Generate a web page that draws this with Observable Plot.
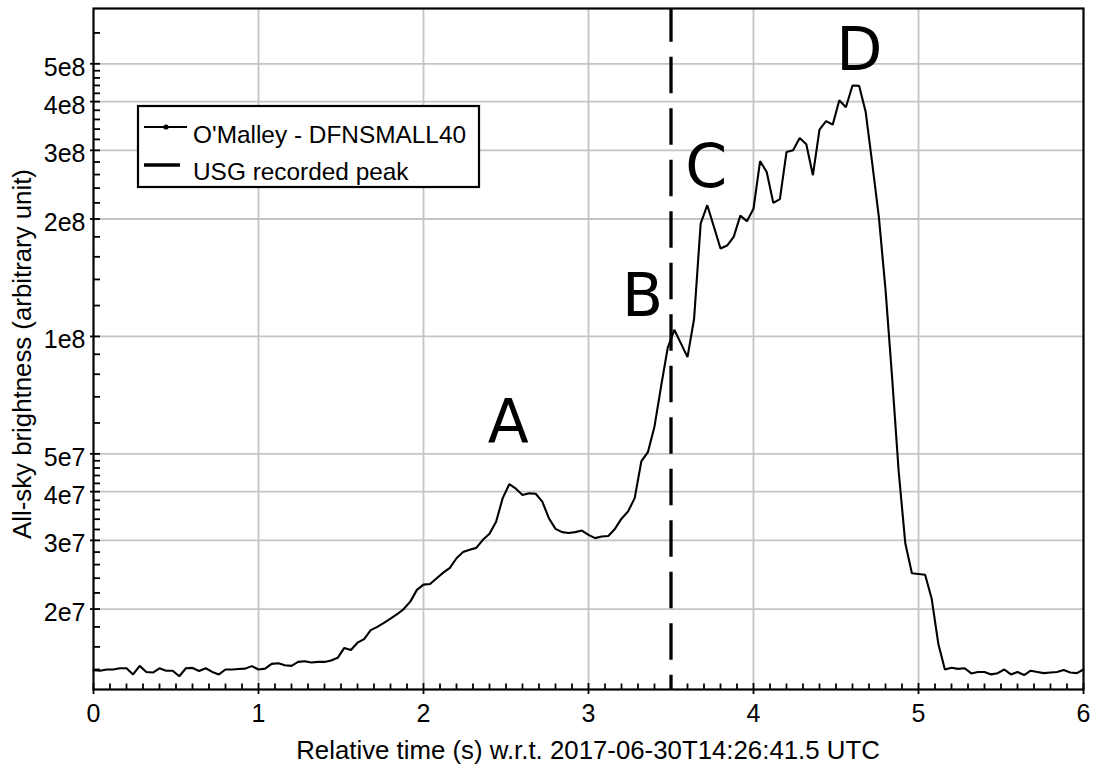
<!DOCTYPE html>
<html>
<head>
<meta charset="utf-8">
<script src="https://cdn.jsdelivr.net/npm/d3@7"></script>
<script src="https://cdn.jsdelivr.net/npm/@observablehq/plot@0.6"></script>
<style>
  html, body { margin: 0; padding: 0; background: #fff; }
  #chart svg { display: block; }
</style>
</head>
<body>
<div id="chart"></div>
<script>
// All-sky brightness light curve, one sample per video frame (25 fps)
const framePeriod = 0.04; // seconds between frames
const brightness = [
  1.394e7, 1.39e7, 1.40e7, 1.40e7, 1.41e7, 1.41e7, 1.36e7, 1.43e7, 1.38e7, 1.375e7,
  1.41e7, 1.39e7, 1.39e7, 1.345e7, 1.41e7, 1.413e7, 1.388e7, 1.41e7, 1.38e7, 1.36e7,
  1.40e7, 1.40e7, 1.404e7, 1.407e7, 1.428e7, 1.40e7, 1.407e7, 1.447e7, 1.453e7, 1.435e7,
  1.43e7, 1.464e7, 1.47e7, 1.459e7, 1.464e7, 1.464e7, 1.476e7, 1.50e7, 1.59e7, 1.57e7,
  1.64e7, 1.675e7, 1.766e7, 1.80e7, 1.844e7, 1.89e7, 1.94e7, 2.0e7, 2.09e7, 2.24e7,
  2.31e7, 2.32e7, 2.40e7, 2.48e7, 2.55e7, 2.70e7, 2.80e7, 2.84e7, 2.87e7, 3.01e7,
  3.12e7, 3.35e7, 3.85e7, 4.18e7, 4.07e7, 3.92e7, 3.96e7, 3.95e7, 3.77e7, 3.42e7,
  3.21e7, 3.15e7, 3.135e7, 3.15e7, 3.18e7, 3.10e7, 3.04e7, 3.07e7, 3.08e7, 3.21e7,
  3.41e7, 3.56e7, 3.85e7, 4.78e7, 5.05e7, 5.88e7, 7.45e7, 9.35e7, 1.04e8, 9.6e7,
  8.85e7, 1.11e8, 1.95e8, 2.17e8, 1.91e8, 1.68e8, 1.71e8, 1.80e8, 2.04e8, 1.975e8,
  2.125e8, 2.815e8, 2.64e8, 2.20e8, 2.25e8, 2.97e8, 3.0e8, 3.225e8, 3.11e8, 2.59e8,
  3.39e8, 3.565e8, 3.49e8, 4.03e8, 3.87e8, 4.40e8, 4.39e8, 3.76e8, 2.77e8, 2.02e8,
  1.32e8, 7.85e7, 4.50e7, 2.95e7, 2.47e7, 2.46e7, 2.45e7, 2.125e7, 1.63e7, 1.40e7,
  1.415e7, 1.405e7, 1.41e7, 1.368e7, 1.38e7, 1.38e7, 1.36e7, 1.37e7, 1.40e7, 1.36e7,
  1.38e7, 1.355e7, 1.39e7, 1.38e7, 1.37e7, 1.375e7, 1.38e7, 1.395e7, 1.375e7, 1.37e7,
  1.40e7
];

// Time of the peak recorded by US government sensors
const usgPeakTime = [3.5];

// Flare phases A–D (time in s, brightness)
const phaseNames = ["A", "B", "C", "D"];
const phaseTimes = [2.514, 3.327, 3.714, 4.642];
const phaseLevels = [6.02e7, 1.266e8, 2.71e8, 5.39e8];

// Axes
const xTicks = [0, 1, 2, 3, 4, 5, 6];
const yTicks = [2e7, 3e7, 4e7, 5e7, 1e8, 2e8, 3e8, 4e8, 5e8];
const yTickLabels = ["2e7", "3e7", "4e7", "5e7", "1e8", "2e8", "3e8", "4e8", "5e8"];
const yMinorTicks = [
  1.4e7, 1.6e7, 1.8e7,
  2.2e7, 2.4e7, 2.6e7, 2.8e7,
  3.2e7, 3.4e7, 3.6e7, 3.8e7,
  4.2e7, 4.4e7, 4.6e7, 4.8e7,
  6e7, 7e7, 8e7, 9e7,
  1.2e8, 1.4e8, 1.6e8, 1.8e8,
  2.2e8, 2.4e8, 2.6e8, 2.8e8,
  3.2e8, 3.4e8, 3.6e8, 3.8e8,
  4.2e8, 4.4e8, 4.6e8, 4.8e8,
  6e8
];
const xMinorTicks = d3.range(1, 60).filter(k => k % 10 !== 0).map(k => k / 10);

const series = brightness.map((v, i) => ({t: i * framePeriod, v}));
const phases = phaseNames.map((name, i) => ({name, t: phaseTimes[i], v: phaseLevels[i]}));
const yLabelOf = new Map(yTicks.map((v, i) => [v, yTickLabels[i]]));

const W = 1097, H = 765;
const mL = 93, mR = 14, mT = 8, mB = 76;
const frameW = W - mL - mR, frameH = H - mT - mB;
const font = "'Liberation Sans', Arial, Helvetica, sans-serif";

const chart = Plot.plot({
  width: W,
  height: H,
  marginLeft: mL,
  marginRight: mR,
  marginTop: mT,
  marginBottom: mB,
  style: {fontFamily: font, fontSize: "25px", background: "white", color: "black"},
  x: {domain: [0, 6]},
  y: {type: "log", domain: [1.244e7, 6.93e8]},
  marks: [
    Plot.gridX(xTicks.slice(1, -1), {stroke: "#c4c4c4", strokeOpacity: 1, strokeWidth: 1.8}),
    Plot.gridY(yTicks, {stroke: "#c4c4c4", strokeOpacity: 1, strokeWidth: 1.8}),
    Plot.line(series, {x: "t", y: "v", stroke: "black", strokeWidth: 2.1, strokeLinejoin: "miter"}),
    Plot.ruleX(usgPeakTime, {stroke: "black", strokeWidth: 3.3, strokeDasharray: "36.5,15", strokeDashoffset: 2.8}),
    // inward minor ticks
    Plot.tickX(xMinorTicks, {x: d => d, stroke: "black", strokeWidth: 1.8, insetTop: frameH - 5.5}),
    Plot.tickY(yMinorTicks, {y: d => d, stroke: "black", strokeWidth: 1.8, insetRight: frameW - 7}),
    // major ticks crossing the axes
    Plot.tickX(xTicks, {x: d => d, stroke: "black", strokeWidth: 1.8, insetTop: frameH - 6, insetBottom: -5}),
    Plot.tickY(yTicks, {y: d => d, stroke: "black", strokeWidth: 1.8, insetRight: frameW - 7, insetLeft: -3}),
    Plot.axisX(xTicks, {tickSize: 0, tickPadding: 15, label: null, tickFormat: d => String(d)}),
    Plot.axisY(yTicks, {tickSize: 0, tickPadding: 8, label: null, dy: 4, tickFormat: d => yLabelOf.get(d)}),
    Plot.frame({stroke: "black", strokeWidth: 2.2}),
    Plot.text(phases, {x: "t", y: "v", text: "name", fontSize: 60, fontFamily: "'DejaVu Sans', sans-serif", textAnchor: "middle", lineAnchor: "middle", fill: "black"})
  ]
});

const svg = d3.select(chart);

// Axis titles
svg.append("text")
  .attr("x", mL + frameW / 2).attr("y", 759)
  .attr("text-anchor", "middle").attr("fill", "black")
  .style("font-family", font).style("font-size", "25.8px")
  .text("Relative time (s) w.r.t. 2017-06-30T14:26:41.5 UTC");

svg.append("text")
  .attr("transform", "translate(31,354) rotate(-90)")
  .attr("text-anchor", "middle").attr("fill", "black")
  .style("font-family", font).style("font-size", "25.8px")
  .text("All-sky brightness (arbitrary unit)");

// Legend
const lg = svg.append("g").attr("text-anchor", "start");
lg.append("rect")
  .attr("x", 138).attr("y", 106).attr("width", 341).attr("height", 81)
  .attr("fill", "white").attr("stroke", "black").attr("stroke-width", 2.2);
lg.append("line")
  .attr("x1", 144).attr("x2", 187).attr("y1", 127).attr("y2", 127)
  .attr("stroke", "black").attr("stroke-width", 1.8);
lg.append("circle").attr("cx", 166).attr("cy", 127).attr("r", 2.6).attr("fill", "black");
lg.append("text")
  .attr("x", 193).attr("y", 143).attr("fill", "black").attr("text-anchor", "start")
  .style("font-family", font).style("font-size", "24.4px")
  .text("O'Malley - DFNSMALL40");
lg.append("line")
  .attr("x1", 144).attr("x2", 180).attr("y1", 165).attr("y2", 165)
  .attr("stroke", "black").attr("stroke-width", 3.4);
lg.append("text")
  .attr("x", 193).attr("y", 180).attr("fill", "black").attr("text-anchor", "start")
  .style("font-family", font).style("font-size", "24.4px")
  .text("USG recorded peak");

document.getElementById("chart").appendChild(chart);
</script>
</body>
</html>
